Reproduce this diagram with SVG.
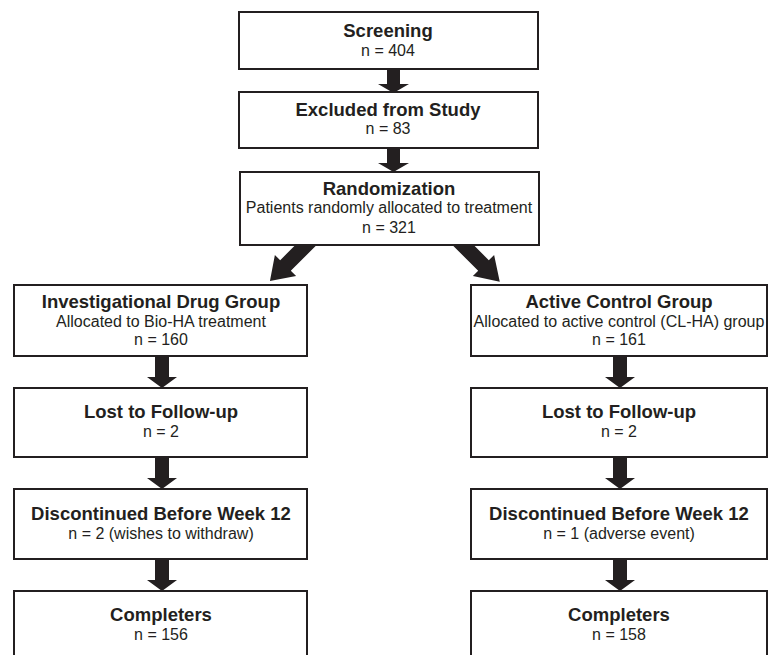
<svg xmlns="http://www.w3.org/2000/svg" width="769" height="655" viewBox="0 0 769 655">
<style>
.box{fill:#fff;stroke:#231f20;stroke-width:2}
.arw{fill:#231f20;stroke:none}
text{font-family:"Liberation Sans",Arial,sans-serif;fill:#231f20;text-anchor:middle}
.t{font-size:18.5px;font-weight:bold}
.s{font-size:16px}
</style>
<rect width="769" height="655" fill="#fff"/>
<g id="connectors">
<polygon class="arw" points="387,69 400,69 400,84 409,84 393.5,93 378,84 387,84"/>
<polygon class="arw" points="387,148 400,148 400,163 409,163 393.5,172 378,163 387,163"/>
<polygon class="arw" transform="translate(306,245) rotate(45)" points="-7.5,-15 7.5,-15 7.5,29 15,29 0,51 -15,29 -7.5,29"/>
<polygon class="arw" transform="translate(463,245) rotate(-45)" points="-7.5,-15 7.5,-15 7.5,29 15,29 0,52 -15,29 -7.5,29"/>
<polygon class="arw" points="155,356 169,356 169,377 177,377 162,388 147,377 155,377"/>
<polygon class="arw" points="155,457 169,457 169,478 177,478 162,489 147,478 155,478"/>
<polygon class="arw" points="155,559 169,559 169,580 177,580 162,591 147,580 155,580"/>
<polygon class="arw" points="613,356 627,356 627,377 635,377 620,388 605,377 613,377"/>
<polygon class="arw" points="613,457 627,457 627,478 635,478 620,489 605,478 613,478"/>
<polygon class="arw" points="613,559 627,559 627,580 635,580 620,591 605,580 613,580"/>
</g>
<g id="screening">
<rect class="box" x="239" y="12" width="299" height="57"/>
<text class="t" x="388" y="37">Screening</text>
<text class="s" x="388" y="56">n = 404</text>
</g>
<g id="excluded">
<rect class="box" x="239" y="92" width="299" height="56"/>
<text class="t" x="388" y="116">Excluded from Study</text>
<text class="s" x="388" y="134">n = 83</text>
</g>
<g id="randomization">
<rect class="box" x="240" y="172" width="299" height="73"/>
<text class="t" x="389" y="195">Randomization</text>
<text class="s" x="389" y="213">Patients randomly allocated to treatment</text>
<text class="s" x="389" y="233">n = 321</text>
</g>
<g id="investigational">
<rect class="box" x="14" y="285" width="293" height="71"/>
<text class="t" x="161" y="308">Investigational Drug Group</text>
<text class="s" x="161" y="327">Allocated to Bio-HA treatment</text>
<text class="s" x="161" y="345">n = 160</text>
</g>
<g id="lost-left">
<rect class="box" x="14" y="388" width="293" height="69"/>
<text class="t" x="161" y="418">Lost to Follow-up</text>
<text class="s" x="161" y="437">n = 2</text>
</g>
<g id="disc-left">
<rect class="box" x="14" y="489" width="293" height="70"/>
<text class="t" x="161" y="520">Discontinued Before Week 12</text>
<text class="s" x="161" y="539">n = 2 (wishes to withdraw)</text>
</g>
<g id="comp-left">
<rect class="box" x="14" y="591" width="293" height="80"/>
<text class="t" x="161" y="621">Completers</text>
<text class="s" x="161" y="640">n = 156</text>
</g>
<g id="active">
<rect class="box" x="471" y="285" width="296" height="71"/>
<text class="t" x="619" y="308">Active Control Group</text>
<text class="s" x="619" y="327">Allocated to active control (CL-HA) group</text>
<text class="s" x="619" y="345">n = 161</text>
</g>
<g id="lost-right">
<rect class="box" x="471" y="388" width="296" height="69"/>
<text class="t" x="619" y="418">Lost to Follow-up</text>
<text class="s" x="619" y="437">n = 2</text>
</g>
<g id="disc-right">
<rect class="box" x="471" y="489" width="296" height="70"/>
<text class="t" x="619" y="520">Discontinued Before Week 12</text>
<text class="s" x="619" y="539">n = 1 (adverse event)</text>
</g>
<g id="comp-right">
<rect class="box" x="471" y="591" width="296" height="80"/>
<text class="t" x="619" y="621">Completers</text>
<text class="s" x="619" y="640">n = 158</text>
</g>
</svg>
